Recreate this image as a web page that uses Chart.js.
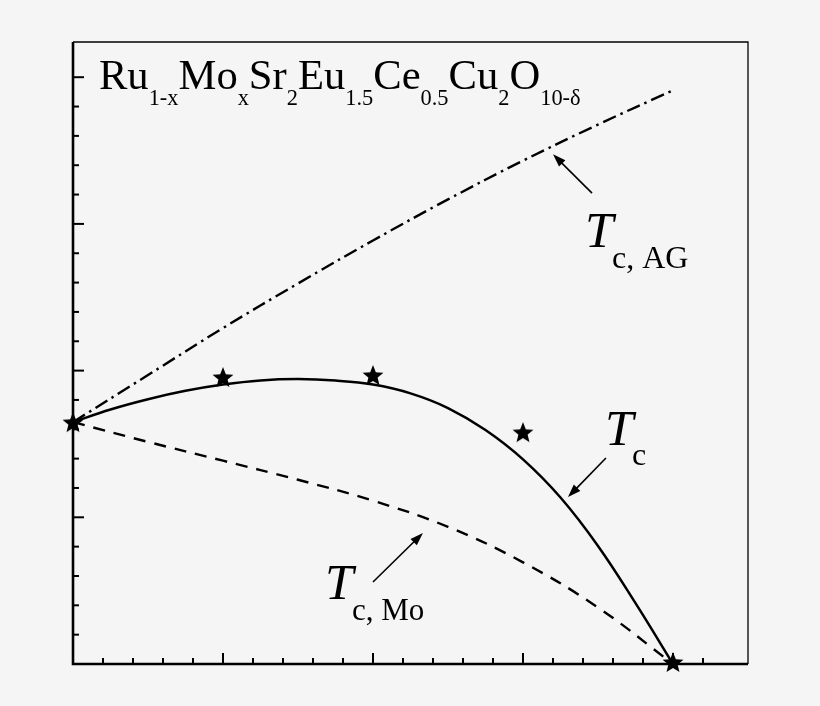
<!DOCTYPE html>
<html>
<head>
<meta charset="utf-8">
<script src="https://cdn.jsdelivr.net/npm/chart.js@4"></script>
<style>
  html, body { margin: 0; padding: 0; background: #f5f5f5; }
  #wrap { width: 820px; height: 706px; position: relative; }
</style>
</head>
<body>
<div id="wrap"><canvas id="chart"></canvas></div>
<script>
// x in units of the (unlabelled) major tick, y likewise
const tcX = [0, 0.25, 0.5, 0.75, 1, 1.25, 1.5, 1.75, 2, 2.25, 2.5, 2.75, 3, 3.25, 3.5, 3.75, 4];
const tcY = [1.649, 1.735, 1.805, 1.862, 1.905, 1.933, 1.942, 1.932, 1.905, 1.845, 1.745, 1.595, 1.395, 1.135, 0.805, 0.415, 0];

const agX = [0, 0.5, 1, 1.5, 2, 2.5, 3, 3.5, 4];
const agY = [1.649, 1.97, 2.29, 2.594, 2.887, 3.167, 3.431, 3.677, 3.911];

const moX = [0, 0.5, 1, 1.5, 2, 2.5, 3, 3.5, 4];
const moY = [1.649, 1.514, 1.386, 1.256, 1.113, 0.935, 0.693, 0.385, 0];

const starX = [0, 1, 2, 3, 4];
const starY = [1.649, 1.956, 1.97, 1.581, 0.014];

const titleParts = [
  ['Ru', 0], ['1-x', 1], ['Mo', 0], ['x', 1], ['Sr', 0], ['2', 1], ['Eu', 0], ['1.5', 1],
  ['Ce', 0], ['0.5', 1], ['Cu', 0], ['2', 1], ['O', 0], ['10-δ', 1],
];

const X_MAX = 4.5;
const Y_MAX = 4.24;
const MINOR = 0.2;

const SERIF = '"Liberation Serif", "Times New Roman", serif';

// labels: T + subscript, anchored in data units
const LABELS = [
  { t: [3.413, 2.842], sub: 'c, AG', s: [3.593, 2.698], subSize: 32 },
  { t: [3.547, 1.492], sub: 'c', s: [3.727, 1.356], subSize: 32 },
  { t: [1.68, 0.443], sub: 'c, Mo', s: [1.86, 0.30], subSize: 31 },
];

const ARROWS = [
  { from: [3.46, 3.21], to: [3.2, 3.475] },
  { from: [3.553, 1.404], to: [3.3, 1.138] },
  { from: [2.0, 0.559], to: [2.333, 0.893] },
];

const pairs = (xs, ys) => xs.map((x, i) => ({ x, y: ys[i] }));

function makeStar(r) {
  const size = Math.ceil(r * 2 + 2);
  const c = document.createElement('canvas');
  c.width = size;
  c.height = size;
  const g = c.getContext('2d');
  g.translate(size / 2, size / 2 + r * 0.1);
  g.beginPath();
  for (let i = 0; i < 10; i++) {
    const rad = i % 2 ? r * 0.44 : r;
    const a = -Math.PI / 2 + i * Math.PI / 5;
    g.lineTo(Math.cos(a) * rad, Math.sin(a) * rad);
  }
  g.closePath();
  g.fillStyle = '#000';
  g.fill();
  return c;
}

function arrow(ctx, x1, y1, x2, y2) {
  const ang = Math.atan2(y2 - y1, x2 - x1);
  const len = 13, half = 4.5;
  ctx.save();
  ctx.strokeStyle = '#000';
  ctx.fillStyle = '#000';
  ctx.lineWidth = 1.6;
  ctx.beginPath();
  ctx.moveTo(x1, y1);
  ctx.lineTo(x2 - Math.cos(ang) * len * 0.8, y2 - Math.sin(ang) * len * 0.8);
  ctx.stroke();
  ctx.beginPath();
  ctx.moveTo(x2, y2);
  ctx.lineTo(x2 - Math.cos(ang) * len - Math.sin(ang) * half, y2 - Math.sin(ang) * len + Math.cos(ang) * half);
  ctx.lineTo(x2 - Math.cos(ang) * len + Math.sin(ang) * half, y2 - Math.sin(ang) * len - Math.cos(ang) * half);
  ctx.closePath();
  ctx.fill();
  ctx.restore();
}

const isMajor = v => Math.abs(v - Math.round(v)) < 1e-6;

const decorPlugin = {
  id: 'decor',
  afterDraw(chart) {
    const { ctx, chartArea: a, scales: { x, y } } = chart;
    ctx.save();
    // frame
    ctx.strokeStyle = '#000';
    ctx.lineWidth = 1.3;
    ctx.beginPath();
    ctx.moveTo(a.left, a.top);
    ctx.lineTo(a.right, a.top);
    ctx.lineTo(a.right, a.bottom);
    ctx.stroke();
    ctx.lineWidth = 2.6;
    ctx.beginPath();
    ctx.moveTo(a.left, a.top);
    ctx.lineTo(a.left, a.bottom);
    ctx.lineTo(a.right, a.bottom);
    ctx.stroke();

    // inward ticks
    ctx.lineWidth = 2;
    for (const t of x.ticks) {
      if (t.value <= 0 || t.value >= X_MAX - 1e-6) continue;
      if (Math.abs(t.value / MINOR - Math.round(t.value / MINOR)) > 1e-6) continue;
      const px = x.getPixelForValue(t.value);
      const len = isMajor(t.value) ? 11 : 6;
      ctx.beginPath();
      ctx.moveTo(px, a.bottom);
      ctx.lineTo(px, a.bottom - len);
      ctx.stroke();
    }
    for (const t of y.ticks) {
      if (t.value <= 0 || t.value >= Y_MAX - 1e-6) continue;
      if (Math.abs(t.value / MINOR - Math.round(t.value / MINOR)) > 1e-6) continue;
      const py = y.getPixelForValue(t.value);
      const len = isMajor(t.value) ? 11 : 6;
      ctx.beginPath();
      ctx.moveTo(a.left, py);
      ctx.lineTo(a.left + len, py);
      ctx.stroke();
    }

    // compound formula
    ctx.fillStyle = '#000';
    ctx.textBaseline = 'alphabetic';
    let tx = x.getPixelForValue(0.173);
    const base = y.getPixelForValue(3.918);
    for (const [txt, sub] of titleParts) {
      ctx.font = sub ? `22.4px ${SERIF}` : `42.6px ${SERIF}`;
      ctx.fillText(txt, tx, sub ? base + 16 : base);
      tx += ctx.measureText(txt).width;
    }

    // T labels
    for (const l of LABELS) {
      ctx.font = `italic 51px ${SERIF}`;
      ctx.fillText('T', x.getPixelForValue(l.t[0]), y.getPixelForValue(l.t[1]));
      ctx.font = `${l.subSize}px ${SERIF}`;
      ctx.fillText(l.sub, x.getPixelForValue(l.s[0]), y.getPixelForValue(l.s[1]));
    }

    for (const ar of ARROWS) {
      arrow(ctx,
        x.getPixelForValue(ar.from[0]), y.getPixelForValue(ar.from[1]),
        x.getPixelForValue(ar.to[0]), y.getPixelForValue(ar.to[1]));
    }
    ctx.restore();
  },
};

const lineBase = {
  borderColor: '#000',
  borderWidth: 2.5,
  pointRadius: 0,
  fill: false,
  tension: 0.4,
};

new Chart(document.getElementById('chart'), {
  type: 'scatter',
  data: {
    datasets: [
      { ...lineBase, label: 'Tc', data: pairs(tcX, tcY), showLine: true, order: 2 },
      { ...lineBase, label: 'Tc,AG', data: pairs(agX, agY), showLine: true, borderDash: [14, 5, 2.5, 5], borderWidth: 2.4, order: 3 },
      { ...lineBase, label: 'Tc,Mo', data: pairs(moX, moY), showLine: true, borderDash: [12, 9], borderWidth: 2.4, order: 4 },
      {
        label: 'exp',
        data: pairs(starX, starY),
        showLine: false,
        pointStyle: makeStar(11),
        pointRadius: 10,
        clip: false,
        order: 1,
      },
    ],
  },
  options: {
    responsive: true,
    maintainAspectRatio: false,
    animation: false,
    layout: { padding: { left: 73, right: 72, top: 42, bottom: 42 } },
    plugins: { legend: { display: false }, tooltip: { enabled: false } },
    scales: {
      x: { type: 'linear', min: 0, max: X_MAX, display: false, ticks: { stepSize: MINOR } },
      y: { type: 'linear', min: 0, max: Y_MAX, display: false, ticks: { stepSize: MINOR } },
    },
  },
  plugins: [decorPlugin],
});
</script>
</body>
</html>
